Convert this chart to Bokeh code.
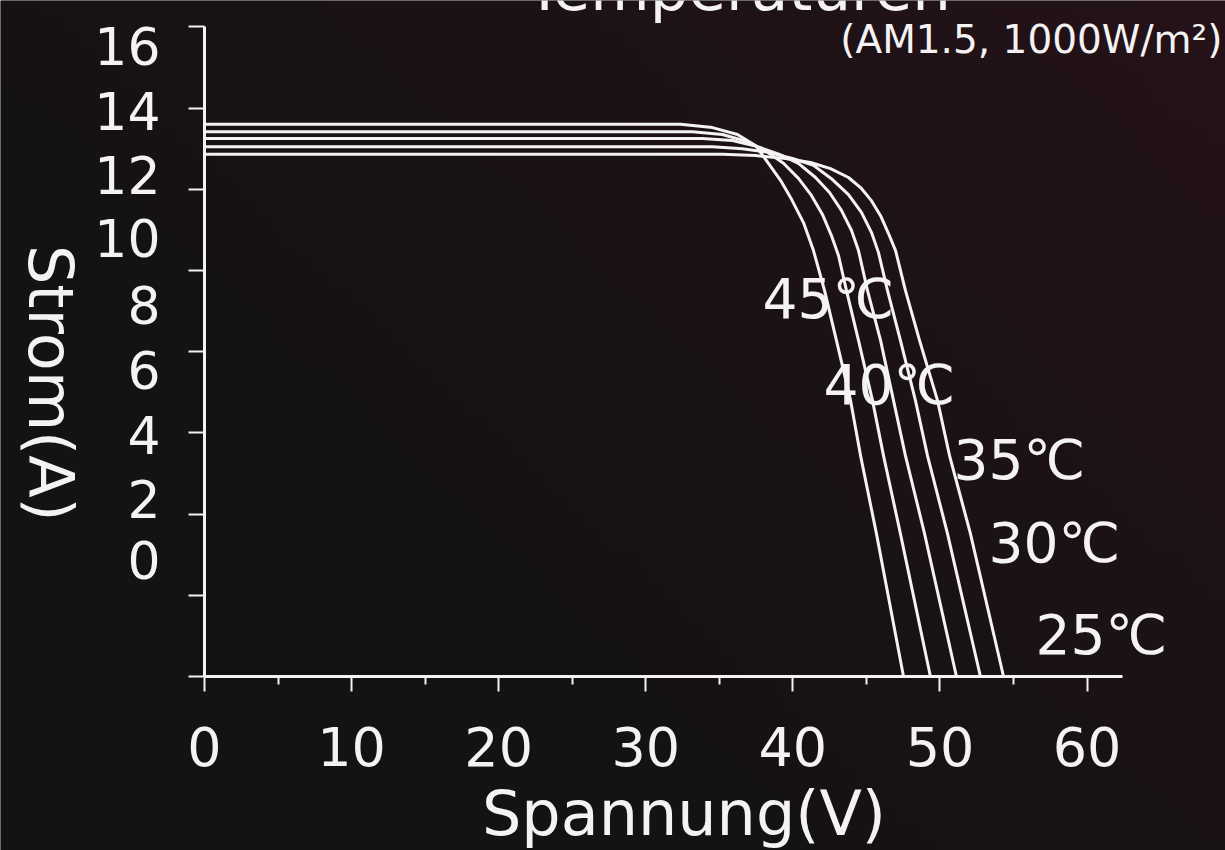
import math
import numpy as np
from bokeh.plotting import figure
from bokeh.models import Range1d, FixedTicker
from bokeh.core.properties import value
from bokeh.embed import file_html
from bokeh.resources import INLINE

# ---------------- data ----------------
temps = ["45℃", "40℃", "35℃", "30℃", "25℃"]

v_45 = [0, 32.36, 34.53, 36.23, 37.46, 38.34, 39.16, 39.84, 40.72, 41.40, 42.15, 42.96, 43.92, 44.60, 45.68, 47.52]
i_45 = [13.60, 13.60, 13.52, 13.35, 13.08, 12.64, 12.22, 11.80, 11.18, 10.49, 9.51, 8.28, 6.80, 5.44, 3.52, 0]

v_40 = [0, 33.17, 35.21, 36.85, 38.21, 39.36, 40.38, 41.26, 42.01, 42.62, 43.10, 43.64, 44.46, 45.41, 46.16, 47.31, 49.35]
i_40 = [13.42, 13.42, 13.35, 13.18, 12.93, 12.64, 12.27, 11.85, 11.38, 10.86, 10.37, 9.51, 8.28, 6.80, 5.44, 3.52, 0]

v_35 = [0, 33.85, 35.89, 37.59, 39.09, 40.38, 41.54, 42.49, 43.30, 43.98, 44.46, 45.07, 45.96, 46.84, 47.65, 48.95, 51.12]
i_35 = [13.25, 13.25, 13.20, 13.05, 12.86, 12.64, 12.29, 11.92, 11.48, 10.99, 10.49, 9.51, 8.28, 6.80, 5.44, 3.52, 0]

v_30 = [0, 34.53, 36.57, 38.34, 39.97, 41.40, 42.69, 43.78, 44.66, 45.34, 45.82, 46.43, 47.31, 48.33, 49.15, 50.51, 52.75]
i_30 = [13.05, 13.05, 13.00, 12.91, 12.76, 12.59, 12.24, 11.87, 11.43, 10.94, 10.44, 9.51, 8.28, 6.80, 5.44, 3.52, 0]

v_25 = [0, 35.21, 37.46, 39.50, 41.20, 42.56, 43.78, 44.66, 45.34, 45.96, 46.50, 46.98, 47.65, 48.61, 49.83, 50.65, 52.07, 54.32]
i_25 = [12.86, 12.86, 12.83, 12.76, 12.66, 12.51, 12.29, 12.02, 11.72, 11.35, 10.91, 10.49, 9.51, 8.28, 6.80, 5.44, 3.52, 0]

x_ticks = [0, 10, 20, 30, 40, 50, 60]
x_minor_ticks = [5, 15, 25, 35, 45, 55]
y_ticks = [0, 2, 4, 6, 8, 10, 12, 14, 16]
y_tick_labels = ["16", "14", "12", "10", "8", "6", "4", "2", "0"]

title_text = "Temperaturen"
subtitle_text = "(AM1.5, 1000W/m²)"
x_title = "Spannung(V)"
y_title = "Strom(A)"

# ---------------- layout / style ----------------
FONT = "DejaVu Sans"
FG = "#f4f2f2"
BG = "#161314"

X0, X1 = -13.868, 69.41      # visible range; frame covers the whole canvas
Y0, Y1 = -4.286, 16.65
X_AXIS_END = 62.4
Y_AXIS_END = 16

y_label_x = -2.99
y_label_pos = [15.52, 13.93, 12.35, 10.79, 9.14, 7.56, 5.96, 4.38, 2.88]
temp_label_x = [37.93, 42.08, 50.92, 53.30, 56.49]
temp_label_y = [9.31, 7.19, 5.32, 3.30, 1.03]

p = figure(width=1225, height=850, output_backend="svg", toolbar_location=None,
           x_range=Range1d(X0, X1), y_range=Range1d(Y0, Y1),
           min_border=0)
p.background_fill_color = BG
p.border_fill_color = BG
p.outline_line_color = None
p.xgrid.visible = False
p.ygrid.visible = False

# subtle background gradient (darker left, warmer top-right)
H, W = 60, 90
gx = np.linspace(0, 1, W)[None, :]
gy = np.linspace(0, 1, H)[:, None]   # row 0 = bottom
t = np.clip(0.75 * gx + 0.55 * gy - 0.35, 0, 1) ** 1.2
img = np.empty((H, W), dtype=np.uint32)
view = img.view(dtype=np.uint8).reshape((H, W, 4))
view[:, :, 0] = (20 + 18 * t).astype(np.uint8)
view[:, :, 1] = (18 + 0 * t).astype(np.uint8)
view[:, :, 2] = (19 + 6 * t).astype(np.uint8)
view[:, :, 3] = 255
p.image_rgba(image=[img], x=X0, y=Y0, dw=X1 - X0, dh=Y1 - Y0, level="image")

# x axis (placed at I = 0)
xa = p.xaxis[0]
xa.fixed_location = 0
xa.bounds = (0, X_AXIS_END)
xa.ticker = FixedTicker(ticks=x_ticks, minor_ticks=x_minor_ticks)
xa.axis_line_color = FG
xa.axis_line_width = 3
xa.major_tick_line_color = FG
xa.major_tick_line_width = 2
xa.major_tick_out = 15
xa.major_tick_in = 0
xa.minor_tick_line_color = FG
xa.minor_tick_line_width = 2
xa.minor_tick_out = 8
xa.minor_tick_in = 0
xa.major_label_text_color = FG
xa.major_label_text_font = FONT
xa.major_label_text_font_size = "54px"
xa.major_label_standoff = 36

# y axis (placed at V = 0)
ya = p.yaxis[0]
ya.fixed_location = 0
ya.bounds = (0, Y_AXIS_END)
ya.ticker = FixedTicker(ticks=y_ticks, minor_ticks=[])
ya.axis_line_color = FG
ya.axis_line_width = 3
ya.major_tick_line_color = FG
ya.major_tick_line_width = 2
ya.major_tick_out = 16
ya.major_tick_in = 0
ya.minor_tick_line_color = None
ya.major_label_overrides = {t: "" for t in y_ticks}
ya.major_label_text_font_size = "1px"

# curves
curves = [(v_45, i_45), (v_40, i_40), (v_35, i_35), (v_30, i_30), (v_25, i_25)]
for vs, cs in curves:
    p.line(vs, cs, line_color=FG, line_width=3, line_join="round", line_cap="round")

# temperature labels
p.text(x=temp_label_x, y=temp_label_y, text=temps, text_font=value(FONT),
       text_font_size=value("55px"), text_color=FG, text_align="left", text_baseline="middle")

# y tick labels (offset column, as in the reference)
p.text(x=[y_label_x] * len(y_tick_labels), y=y_label_pos, text=y_tick_labels,
       text_font=value(FONT), text_font_size=value("52px"), text_color=FG,
       text_align="right", text_baseline="middle")

# titles
p.text(x=[36.3], y=[16.94], text=[title_text], text_font=value(FONT), text_font_size=value("61px"),
       text_color=FG, text_align="center", text_baseline="alphabetic")
p.text(x=[69.2], y=[15.68], text=[subtitle_text], text_font=value(FONT), text_font_size=value("39px"),
       text_color=FG, text_align="right", text_baseline="middle")
p.text(x=[32.6], y=[-3.38], text=[x_title], text_font=value(FONT), text_font_size=value("62px"),
       text_color=FG, text_align="center", text_baseline="alphabetic")
p.text(x=[-10.47], y=[7.22], text=[y_title], text_font=value(FONT), text_font_size=value("62px"),
       text_color=FG, text_align="center", text_baseline="middle", angle=-math.pi / 2)

open("out.html", "w").write(file_html(p, INLINE))
